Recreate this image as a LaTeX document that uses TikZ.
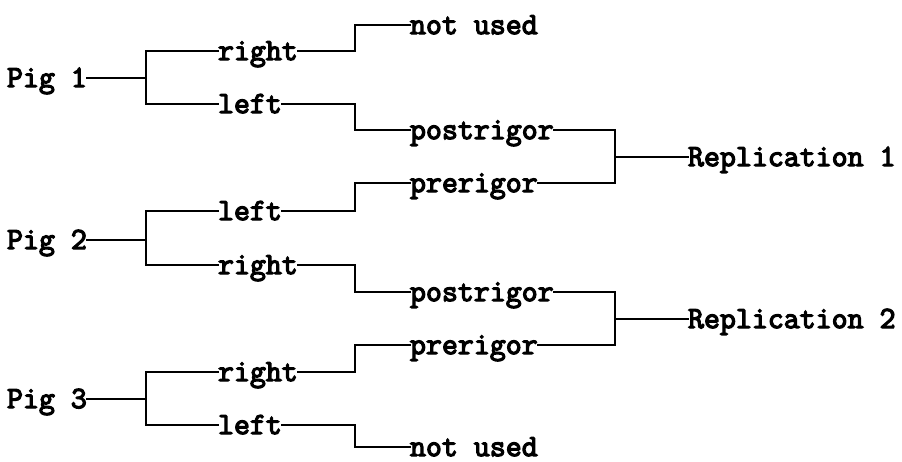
\documentclass[tikz,border=0pt]{standalone}
\usepackage{fontspec}
\newfontfamily\courfont{Latin Modern Mono}[FakeBold=4]
\begin{document}
\begin{tikzpicture}[x=1pt,y=-1pt,
  lbl/.style={font=\courfont\fontsize{31}{34}\selectfont, inner sep=0pt, outer sep=0pt, text height=18.2pt, text depth=0pt, anchor=west},
  conn/.style={line width=1.4pt, line cap=rect}]
\useasboundingbox (0,0) rectangle (902,461);
% level 0
\node[lbl] (p1) at (7,78) {Pig 1};
\node[lbl] (p2) at (7,240) {Pig 2};
\node[lbl] (p3) at (7,399) {Pig 3};
% level 1
\node[lbl] (a1) at (218,51) {right};
\node[lbl] (a2) at (218,104) {left};
\node[lbl] (b1) at (218,211) {left};
\node[lbl] (b2) at (218,265) {right};
\node[lbl] (c1) at (218,372) {right};
\node[lbl] (c2) at (218,425) {left};
% level 2
\node[lbl] (n1) at (410,25) {not used};
\node[lbl] (po1) at (410,130) {postrigor};
\node[lbl] (pr1) at (410,183) {prerigor};
\node[lbl] (po2) at (410,292) {postrigor};
\node[lbl] (pr2) at (410,345) {prerigor};
\node[lbl] (n2) at (410,447) {not used};
% level 3
\node[lbl] (rep1) at (688,157) {Replication 1};
\node[lbl] (rep2) at (688,319) {Replication 2};
% junctions
\coordinate (jp1) at (146,78);
\coordinate (jp2) at (146,240);
\coordinate (jp3) at (146,399);
\coordinate (ja1) at (355,51);
\coordinate (ja2) at (355,104);
\coordinate (jb1) at (355,211);
\coordinate (jb2) at (355,265);
\coordinate (jc1) at (355,372);
\coordinate (jc2) at (355,425);
\coordinate (jr1) at (615,157);
\coordinate (jr2) at (615,319);
% connectors level 0-1
\draw[conn] (p1.east) -- (jp1);
\draw[conn] (jp1) |- (a1.west);
\draw[conn] (jp1) |- (a2.west);
\draw[conn] (p2.east) -- (jp2);
\draw[conn] (jp2) |- (b1.west);
\draw[conn] (jp2) |- (b2.west);
\draw[conn] (p3.east) -- (jp3);
\draw[conn] (jp3) |- (c1.west);
\draw[conn] (jp3) |- (c2.west);
% connectors level 1-2
\draw[conn] (a1.east) -- (ja1) |- (n1.west);
\draw[conn] (a2.east) -- (ja2) |- (po1.west);
\draw[conn] (b1.east) -- (jb1) |- (pr1.west);
\draw[conn] (b2.east) -- (jb2) |- (po2.west);
\draw[conn] (c1.east) -- (jc1) |- (pr2.west);
\draw[conn] (c2.east) -- (jc2) |- (n2.west);
% connectors level 2-3
\draw[conn] (po1.east) -| (jr1);
\draw[conn] (pr1.east) -| (jr1);
\draw[conn] (jr1) -- (rep1.west);
\draw[conn] (po2.east) -| (jr2);
\draw[conn] (pr2.east) -| (jr2);
\draw[conn] (jr2) -- (rep2.west);
\end{tikzpicture}
\end{document}
